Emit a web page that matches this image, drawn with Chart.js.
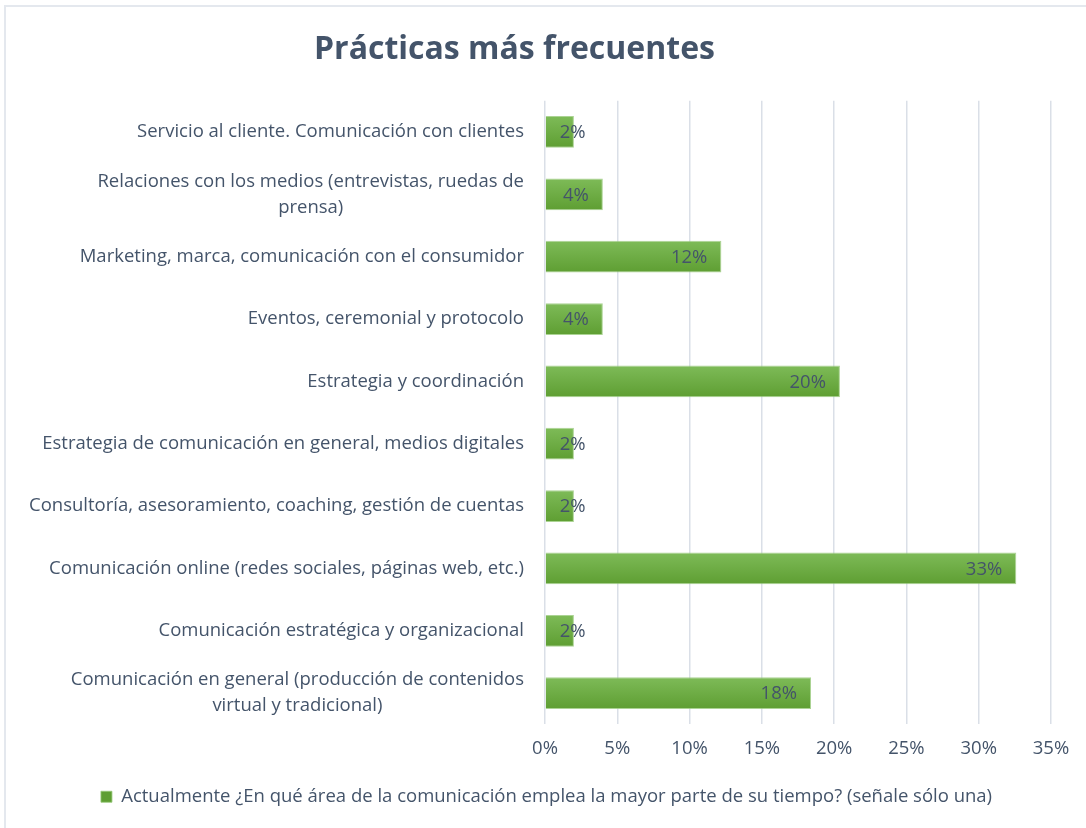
<!DOCTYPE html>
<html>
<head>
<meta charset="utf-8">
<script src="https://cdn.jsdelivr.net/npm/chart.js@4.4.1/dist/chart.umd.min.js"></script>
<style>
  html, body { margin: 0; padding: 0; background: #fff; overflow: hidden; }
  #frame { position: absolute; left: 4px; top: 5px; width: 1200px; height: 900px;
           border-left: 2px solid #E4E8EE; border-top: 2px solid #E4E8EE; }
  #wrap { position: absolute; left: 0; top: 0; width: 1086px; height: 828px; }
</style>
</head>
<body>
<div id="frame"></div>
<div id="wrap"><canvas id="chart"></canvas></div>
<script>
// DATA
const TITLE = "Prácticas más frecuentes";
const SERIES_LABEL = "Actualmente ¿En qué área de la comunicación emplea la mayor parte de su tiempo? (señale sólo una)";
const CATEGORIES = [
  "Servicio al cliente. Comunicación con clientes",
  ["Relaciones con los medios (entrevistas, ruedas de", "prensa)"],
  "Marketing, marca, comunicación con el consumidor",
  "Eventos, ceremonial y protocolo",
  "Estrategia y coordinación",
  "Estrategia de comunicación en general, medios digitales",
  "Consultoría, asesoramiento, coaching, gestión de cuentas",
  "Comunicación online (redes sociales, páginas web, etc.)",
  "Comunicación estratégica y organizacional",
  ["Comunicación en general (producción de contenidos", "virtual y tradicional)"]
];
const VALUES = [2.0, 4.0, 12.2, 4.0, 20.4, 2.0, 2.0, 32.6, 2.0, 18.4];
const X_TICKS = [0, 5, 10, 15, 20, 25, 30, 35];

const TEXT = "#44546A";
const GRID = "#DADFE7";
const FONT = "'Open Sans', sans-serif";
const TEXT_SIZE = 18.5;

// bar fill: light on top, darker at bottom, one gradient per bar
function barFill(c) {
  const chart = c.chart;
  const y = chart.scales && chart.scales.y;
  if (!y || c.dataIndex === undefined || !chart.chartArea) return "#70AD47";
  const cy = y.getPixelForValue(c.dataIndex);
  const h = 16;
  const g = chart.ctx.createLinearGradient(0, cy - h, 0, cy + h);
  g.addColorStop(0, "#7EBB58");
  g.addColorStop(1, "#5E9E32");
  return g;
}

// category labels drawn right aligned, multi-line ones centred on themselves
const categoryLabels = {
  id: "categoryLabels",
  afterDraw(chart) {
    const ctx = chart.ctx;
    const y = chart.scales.y;
    const right = y.right - 21;
    ctx.save();
    ctx.font = TEXT_SIZE + "px " + FONT;
    ctx.fillStyle = TEXT;
    ctx.textAlign = "center";
    ctx.textBaseline = "middle";
    chart.data.labels.forEach((lab, i) => {
      const lines = [].concat(lab);
      const widest = Math.max(...lines.map(l => ctx.measureText(l).width));
      const cx = right - widest / 2;
      const cy = y.getPixelForValue(i);
      lines.forEach((l, k) => {
        ctx.fillText(l, cx, cy + (k - (lines.length - 1) / 2) * 26);
      });
    });
    ctx.restore();
  }
};

// value labels at the inside end of each bar
const valueLabels = {
  id: "valueLabels",
  afterDatasetsDraw(chart) {
    const ctx = chart.ctx;
    const meta = chart.getDatasetMeta(0);
    ctx.save();
    ctx.font = TEXT_SIZE + "px " + FONT;
    ctx.fillStyle = TEXT;
    ctx.textAlign = "right";
    ctx.textBaseline = "middle";
    meta.data.forEach((bar, i) => {
      const txt = Math.round(VALUES[i]) + "%";
      const w = ctx.measureText(txt).width;
      const x = Math.max(bar.x - 14, bar.base + 14 + w);
      ctx.fillText(txt, x, bar.y + 1);
    });
    ctx.restore();
  }
};

// nudge title and legend to where they sit in the original
const shiftBlocks = {
  id: "shiftBlocks",
  afterLayout(chart) {
    if (chart.titleBlock) { chart.titleBlock.left -= 11; chart.titleBlock.right -= 11; }
    if (chart.legend) { chart.legend.left += 21; chart.legend.right += 21; }
  }
};

new Chart(document.getElementById("chart"), {
  type: "bar",
  data: {
    labels: CATEGORIES,
    datasets: [{
      label: SERIES_LABEL,
      data: VALUES,
      backgroundColor: barFill,
      borderColor: "rgba(150,200,120,0.8)",
      borderWidth: 1,
      barPercentage: 0.51,
      categoryPercentage: 1
    }]
  },
  options: {
    indexAxis: "y",
    responsive: true,
    maintainAspectRatio: false,
    animation: false,
    layout: { padding: { top: 0, left: 0, right: 35, bottom: 12 } },
    scales: {
      x: {
        min: 0,
        max: 35,
        afterBuildTicks: s => { s.ticks = X_TICKS.map(v => ({ value: v })); },
        grid: { color: GRID, lineWidth: 1.5, drawTicks: false },
        border: { display: false },
        ticks: {
          padding: 13,
          color: TEXT,
          font: { family: FONT, size: TEXT_SIZE },
          callback: v => v + "%"
        }
      },
      y: {
        grid: { display: false },
        border: { display: false },
        ticks: { display: false },
        afterFit: s => { s.width = 545; }
      }
    },
    plugins: {
      title: {
        display: true,
        text: TITLE,
        color: TEXT,
        font: { family: FONT, size: 32, weight: "bold" },
        padding: { top: 31, bottom: 31.4 }
      },
      legend: {
        position: "bottom",
        labels: {
          color: TEXT,
          font: { family: FONT, size: TEXT_SIZE },
          boxWidth: 11,
          boxHeight: 11,
          padding: 15
        }
      },
      tooltip: { enabled: false }
    }
  },
  plugins: [categoryLabels, valueLabels, shiftBlocks]
});
</script>
</body>
</html>
